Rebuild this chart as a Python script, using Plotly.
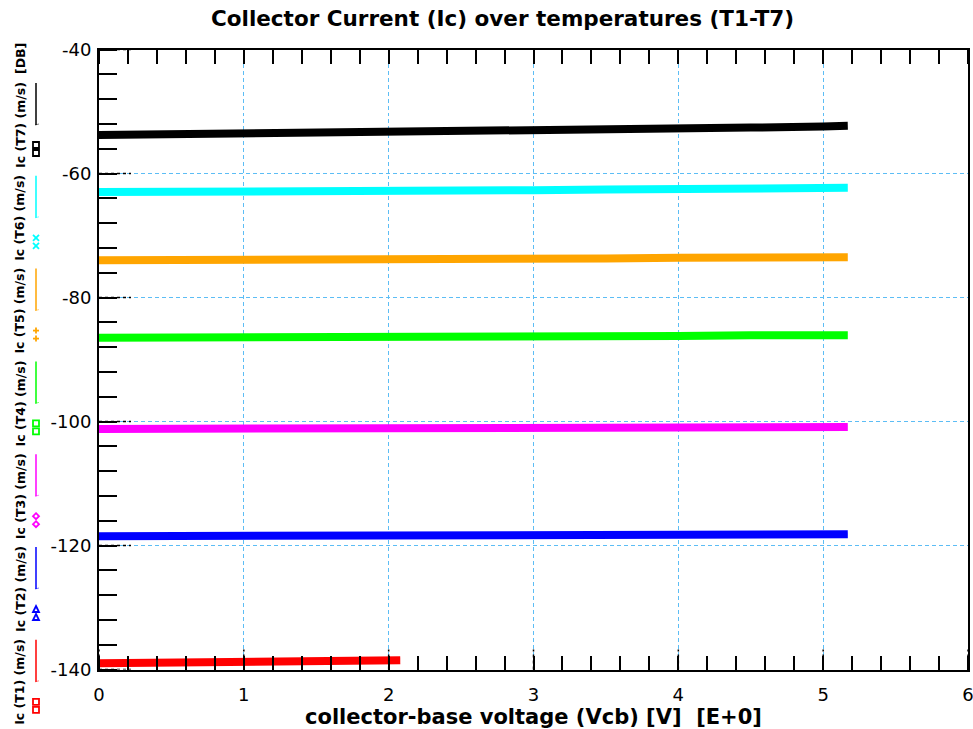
import plotly.graph_objects as go

# ---- data ----
series_names = ["Ic (T1) (m/s)", "Ic (T2) (m/s)", "Ic (T3) (m/s)", "Ic (T4) (m/s)",
                "Ic (T5) (m/s)", "Ic (T6) (m/s)", "Ic (T7) (m/s)"]
colors = ["#FF0000", "#0000FF", "#FF00FF", "#00FF00", "#FFA500", "#00FFFF", "#000000"]
marker_kinds = ["square", "triangle", "diamond", "square", "cross", "x", "square"]

x_full = [0, 0.5, 1, 1.5, 2, 2.5, 3, 3.5, 4, 4.5, 5, 5.17]
x_t1 = [0, 0.5, 1, 1.5, 2, 2.08]

ic_t1 = [-139.0, -138.9, -138.8, -138.7, -138.6, -138.5]
ic_t2 = [-118.5, -118.5, -118.4, -118.4, -118.4, -118.3, -118.3, -118.3, -118.3, -118.2, -118.2, -118.2]
ic_t3 = [-101.2, -101.2, -101.2, -101.1, -101.1, -101.1, -101.0, -101.0, -101.0, -100.9, -100.9, -100.9]
ic_t4 = [-86.5, -86.5, -86.4, -86.4, -86.3, -86.3, -86.3, -86.2, -86.2, -86.1, -86.1, -86.1]
ic_t5 = [-74.0, -74.0, -73.9, -73.9, -73.8, -73.8, -73.7, -73.7, -73.6, -73.6, -73.5, -73.5]
ic_t6 = [-63.0, -63.0, -62.9, -62.9, -62.8, -62.7, -62.7, -62.6, -62.5, -62.4, -62.3, -62.3]
ic_t7 = [-53.8, -53.7, -53.6, -53.4, -53.3, -53.2, -53.0, -52.9, -52.8, -52.6, -52.4, -52.3]

x_ticks = [0, 1, 2, 3, 4, 5, 6]
x_tick_labels = ["0", "1", "2", "3", "4", "5", "6"]
y_ticks = [-140, -120, -100, -80, -60, -40]
y_tick_labels = ["-140", "-120", "-100", "-80", "-60", "-40"]

xs = [x_t1, x_full, x_full, x_full, x_full, x_full, x_full]
ys = [ic_t1, ic_t2, ic_t3, ic_t4, ic_t5, ic_t6, ic_t7]

W, H = 973, 729
L, R, T, B = 99, 968, 49.5, 669.5
GRID = "#5CBDF5"
FONT = "DejaVu Sans"


def px(x):
    return x / W


def py(y):
    return 1 - y / H


fig = go.Figure()
for x, y, name, c in zip(xs, ys, series_names, colors):
    fig.add_trace(go.Scatter(x=x, y=y, mode="lines", name=name,
                             line=dict(color=c, width=8), showlegend=False))

shapes = []
annotations = []

# horizontal dashed grid (below traces)
for yv in y_ticks[1:-1]:
    shapes.append(dict(type="line", xref="x domain", yref="y", x0=0, x1=1, y0=yv, y1=yv,
                       layer="below", line=dict(color=GRID, width=1, dash="4px,3px")))

# dotted major ticks
for xv in x_ticks:
    shapes.append(dict(type="line", xref="x", yref="y domain", x0=xv, x1=xv,
                       y0=0, y1=20 / (B - T), line=dict(color="black", width=1.5, dash="dot")))
for yv in y_ticks:
    shapes.append(dict(type="line", xref="x domain", yref="y", x0=0, x1=32 / (R - L),
                       y0=yv, y1=yv, line=dict(color="black", width=1.5, dash="dot")))

# custom vertical legend on the left
lx = 36
tx = 20
step = 92.8
for i in range(7):
    k = 6 - i  # top slot is T7
    s = 83 + i * step
    c = colors[k]
    annotations.append(dict(x=px(tx), y=py(s + 42), xref="paper", yref="paper",
                            text="<b>" + series_names[k] + "</b>", textangle=-90, showarrow=False,
                            font=dict(family=FONT, size=12.5, color="black"),
                            xanchor="center", yanchor="middle"))
    shapes.append(dict(type="line", xref="paper", yref="paper", x0=px(lx), x1=px(lx),
                       y0=py(s), y1=py(s + 42), line=dict(color=c, width=1.5)))
    shapes.append(dict(type="line", xref="paper", yref="paper", x0=px(lx - 1), x1=px(lx + 3),
                       y0=py(s + 42), y1=py(s + 41), line=dict(color=c, width=1), opacity=0.5))
    for cy in (s + 62, s + 70):
        kind = marker_kinds[k]
        r = 3
        if kind == "square":
            shapes.append(dict(type="rect", xref="paper", yref="paper",
                               x0=px(lx - r), x1=px(lx + r), y0=py(cy - r), y1=py(cy + r),
                               line=dict(color=c, width=1.8)))
        elif kind == "x":
            shapes.append(dict(type="line", xref="paper", yref="paper", x0=px(lx - r), x1=px(lx + r),
                               y0=py(cy - r), y1=py(cy + r), line=dict(color=c, width=1.8)))
            shapes.append(dict(type="line", xref="paper", yref="paper", x0=px(lx - r), x1=px(lx + r),
                               y0=py(cy + r), y1=py(cy - r), line=dict(color=c, width=1.8)))
        elif kind == "cross":
            shapes.append(dict(type="line", xref="paper", yref="paper", x0=px(lx - r), x1=px(lx + r),
                               y0=py(cy), y1=py(cy), line=dict(color=c, width=1.8)))
            shapes.append(dict(type="line", xref="paper", yref="paper", x0=px(lx), x1=px(lx),
                               y0=py(cy - r), y1=py(cy + r), line=dict(color=c, width=1.8)))
        elif kind == "diamond":
            path = (f"M {px(lx)} {py(cy - r)} L {px(lx + r)} {py(cy)} "
                    f"L {px(lx)} {py(cy + r)} L {px(lx - r)} {py(cy)} Z")
            shapes.append(dict(type="path", xref="paper", yref="paper", path=path,
                               line=dict(color=c, width=1.8)))
        elif kind == "triangle":
            path = (f"M {px(lx)} {py(cy - r)} L {px(lx + r)} {py(cy + r)} "
                    f"L {px(lx - r)} {py(cy + r)} Z")
            shapes.append(dict(type="path", xref="paper", yref="paper", path=path,
                               line=dict(color=c, width=1.8)))

annotations.append(dict(x=px(tx), y=py(59), xref="paper", yref="paper", text="<b>[DB]</b>",
                        textangle=-90, showarrow=False,
                        font=dict(family=FONT, size=12.5, color="black"),
                        xanchor="center", yanchor="middle"))

# title and x-axis title
annotations.append(dict(x=px(502), y=py(18), xref="paper", yref="paper",
                        text="<b>Collector Current (Ic) over temperatures (T1-T7)</b>",
                        showarrow=False, font=dict(family=FONT, size=21.5, color="black"),
                        xanchor="center", yanchor="middle"))
annotations.append(dict(x=px(533), y=py(717), xref="paper", yref="paper",
                        text="<b>collector-base voltage (Vcb) [V]  [E+0]</b>",
                        showarrow=False, font=dict(family=FONT, size=21, color="black"),
                        xanchor="center", yanchor="middle"))

fig.update_layout(
    width=W, height=H,
    margin=dict(l=0, r=0, t=0, b=0, autoexpand=False),
    paper_bgcolor="white", plot_bgcolor="white",
    shapes=shapes, annotations=annotations,
    xaxis=dict(domain=[px(L), px(R)], range=[0, 6], tickvals=x_ticks, ticktext=x_tick_labels,
               ticks="", showline=True, linecolor="black", linewidth=2, mirror="allticks",
               showgrid=True, gridcolor=GRID, griddash="4px,3px", gridwidth=1,
               zeroline=False, ticklabelstandoff=8, ticklabeloverflow="allow", automargin=False,
               tickfont=dict(family=FONT, size=18, color="black"),
               minor=dict(ticks="inside", ticklen=14, dtick=0.2, tickcolor="black",
                          tickwidth=1.5, showgrid=False)),
    yaxis=dict(domain=[py(B), py(T)], range=[-140, -40], tickvals=y_ticks, ticktext=y_tick_labels,
               ticks="", showline=True, linecolor="black", linewidth=2, mirror=True,
               showgrid=False,
               zeroline=False, ticklabelstandoff=2, ticklabeloverflow="allow", automargin=False,
               tickfont=dict(family=FONT, size=18, color="black"),
               minor=dict(ticks="inside", ticklen=18, dtick=4, tickcolor="black",
                          tickwidth=1.5, showgrid=False)),
)

fig.write_html("out.html")
